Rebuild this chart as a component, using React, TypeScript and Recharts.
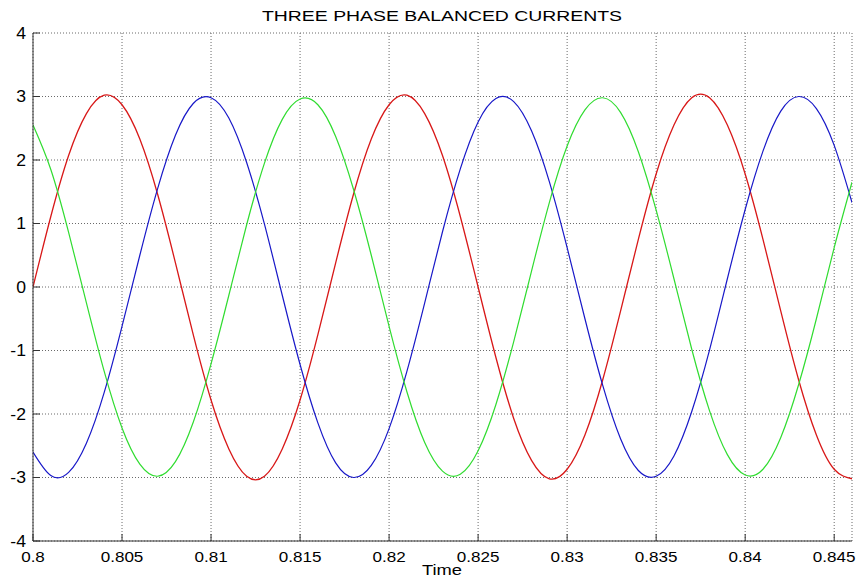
import { CartesianGrid, Line, LineChart, XAxis, YAxis } from "recharts";

const TIME = [
  0.8, 0.801, 0.802, 0.803, 0.804, 0.805, 0.806, 0.807, 0.808, 0.809,
  0.81, 0.811, 0.812, 0.813, 0.814, 0.815, 0.816, 0.817, 0.818, 0.819,
  0.82, 0.821, 0.822, 0.823, 0.824, 0.825, 0.826, 0.827, 0.828, 0.829,
  0.83, 0.831, 0.832, 0.833, 0.834, 0.835, 0.836, 0.837, 0.838, 0.839,
  0.84, 0.841, 0.842, 0.843, 0.844, 0.845, 0.846,
];

const PHASE_RED = [
  0, 1.11, 2.07, 2.73, 3.02, 2.87, 2.33, 1.46, 0.38, -0.75,
  -1.78, -2.55, -2.98, -2.98, -2.55, -1.78, -0.75, 0.38, 1.46, 2.33,
  2.87, 3.02, 2.73, 2.07, 1.11, 0, -1.11, -2.07, -2.73, -3.02,
  -2.87, -2.33, -1.46, -0.38, 0.75, 1.78, 2.55, 2.98, 2.98, 2.55,
  1.78, 0.75, -0.38, -1.46, -2.33, -2.87, -3.02,
];

const PHASE_BLUE = [
  -2.6, -2.97, -2.92, -2.46, -1.66, -0.62, 0.5, 1.55, 2.39, 2.89,
  2.98, 2.66, 1.96, 0.99, -0.13, -1.22, -2.14, -2.77, -3.0, -2.81,
  -2.23, -1.33, -0.25, 0.87, 1.86, 2.6, 2.97, 2.92, 2.46, 1.66,
  0.62, -0.5, -1.55, -2.39, -2.89, -2.98, -2.66, -1.96, -0.99, 0.13,
  1.22, 2.14, 2.77, 3.0, 2.81, 2.23, 1.33,
];

const PHASE_GREEN = [
  2.55, 1.85, 0.86, -0.25, -1.33, -2.22, -2.79, -2.98, -2.75, -2.13,
  -1.21, -0.13, 0.98, 1.95, 2.64, 2.96, 2.87, 2.37, 1.54, 0.5,
  -0.62, -1.65, -2.45, -2.9, -2.95, -2.58, -1.85, -0.86, 0.25, 1.33,
  2.22, 2.79, 2.98, 2.75, 2.13, 1.21, 0.13, -0.98, -1.95, -2.64,
  -2.96, -2.87, -2.37, -1.54, -0.5, 0.62, 1.65,
];

const X_TICKS = [0.8, 0.805, 0.81, 0.815, 0.82, 0.825, 0.83, 0.835, 0.84, 0.845];
const Y_TICKS = [-4, -3, -2, -1, 0, 1, 2, 3, 4];

const TITLE = "THREE PHASE BALANCED CURRENTS";
const X_LABEL = "Time";

const FONT = "'Liberation Sans', Arial, Helvetica, sans-serif";
const AXIS = "#333";
const TICK_LEN = 7;

const data = TIME.map((t, i) => ({
  t,
  red: PHASE_RED[i],
  blue: PHASE_BLUE[i],
  green: PHASE_GREEN[i],
}));

function BottomTick({ x, y, payload }: any) {
  return (
    <g>
      <line x1={x} x2={x} y1={y} y2={y - TICK_LEN} stroke={AXIS} />
      <text
        transform={`translate(${x},${y + 20.5}) scale(1.1,1)`}
        textAnchor="middle"
        fontSize={15.5}
        fontFamily={FONT}
        fill="#000"
      >
        {String(payload.value)}
      </text>
    </g>
  );
}

function TopTick({ x, y }: any) {
  return <line x1={x} x2={x} y1={y} y2={y + TICK_LEN} stroke={AXIS} />;
}

function LeftTick({ x, y, payload }: any) {
  return (
    <g>
      <line x1={x} x2={x + TICK_LEN} y1={y} y2={y} stroke={AXIS} />
      <text
        transform={`translate(${x - 7},${y + 5.5}) scale(1.1,1)`}
        textAnchor="end"
        fontSize={16}
        fontFamily={FONT}
        fill="#000"
      >
        {String(payload.value)}
      </text>
    </g>
  );
}

function RightTick({ x, y }: any) {
  return <line x1={x} x2={x - TICK_LEN} y1={y} y2={y} stroke={AXIS} />;
}

export default function App() {
  return (
    <div style={{ position: "absolute", left: 0, top: 0, width: 861, height: 583, background: "#fff" }}>
      <LineChart
        width={861}
        height={583}
        data={data}
        margin={{ top: 33, right: 9, left: 0, bottom: 0 }}
      >
        <CartesianGrid
          xAxisId="bottom"
          yAxisId="left"
          stroke="#6a6a6a"
          strokeDasharray="1 2"
        />
        <XAxis
          xAxisId="bottom"
          dataKey="t"
          type="number"
          domain={[0.8, 0.846]}
          ticks={X_TICKS}
          interval={0}
          allowDataOverflow
          height={42}
          tickSize={0}
          tickMargin={0}
          tickLine={false}
          axisLine={{ stroke: AXIS }}
          tick={<BottomTick />}
        />
        <XAxis
          xAxisId="top"
          orientation="top"
          dataKey="t"
          type="number"
          domain={[0.8, 0.846]}
          ticks={X_TICKS}
          interval={0}
          allowDataOverflow
          height={0}
          tickSize={0}
          tickMargin={0}
          tickLine={false}
          axisLine={{ stroke: AXIS }}
          tick={<TopTick />}
        />
        <YAxis
          yAxisId="left"
          type="number"
          domain={[-4, 4]}
          ticks={Y_TICKS}
          interval={0}
          width={33}
          tickSize={0}
          tickMargin={0}
          tickLine={false}
          axisLine={{ stroke: AXIS }}
          tick={<LeftTick />}
        />
        <YAxis
          yAxisId="right"
          orientation="right"
          type="number"
          domain={[-4, 4]}
          ticks={Y_TICKS}
          interval={0}
          width={0}
          tickSize={0}
          tickMargin={0}
          tickLine={false}
          axisLine={{ stroke: AXIS }}
          tick={<RightTick />}
        />
        <Line
          xAxisId="bottom"
          yAxisId="left"
          type="natural"
          dataKey="red"
          stroke="#d81818"
          strokeWidth={1.3}
          dot={false}
          isAnimationActive={false}
        />
        <Line
          xAxisId="bottom"
          yAxisId="left"
          type="natural"
          dataKey="blue"
          stroke="#1818c8"
          strokeWidth={1.2}
          dot={false}
          isAnimationActive={false}
        />
        <Line
          xAxisId="bottom"
          yAxisId="left"
          type="natural"
          dataKey="green"
          stroke="#30dc30"
          strokeWidth={1.2}
          dot={false}
          isAnimationActive={false}
        />
      </LineChart>
      <svg
        width={861}
        height={583}
        style={{ position: "absolute", left: 0, top: 0, pointerEvents: "none" }}
      >
        <text
          x={442}
          y={20.5}
          textAnchor="middle"
          fontSize={14.5}
          fontFamily={FONT}
          textLength={360}
          lengthAdjust="spacingAndGlyphs"
          fill="#000"
        >
          {TITLE}
        </text>
        <text
          x={442}
          y={575}
          textAnchor="middle"
          fontSize={14}
          fontFamily={FONT}
          textLength={40}
          lengthAdjust="spacingAndGlyphs"
          fill="#000"
        >
          {X_LABEL}
        </text>
      </svg>
    </div>
  );
}
